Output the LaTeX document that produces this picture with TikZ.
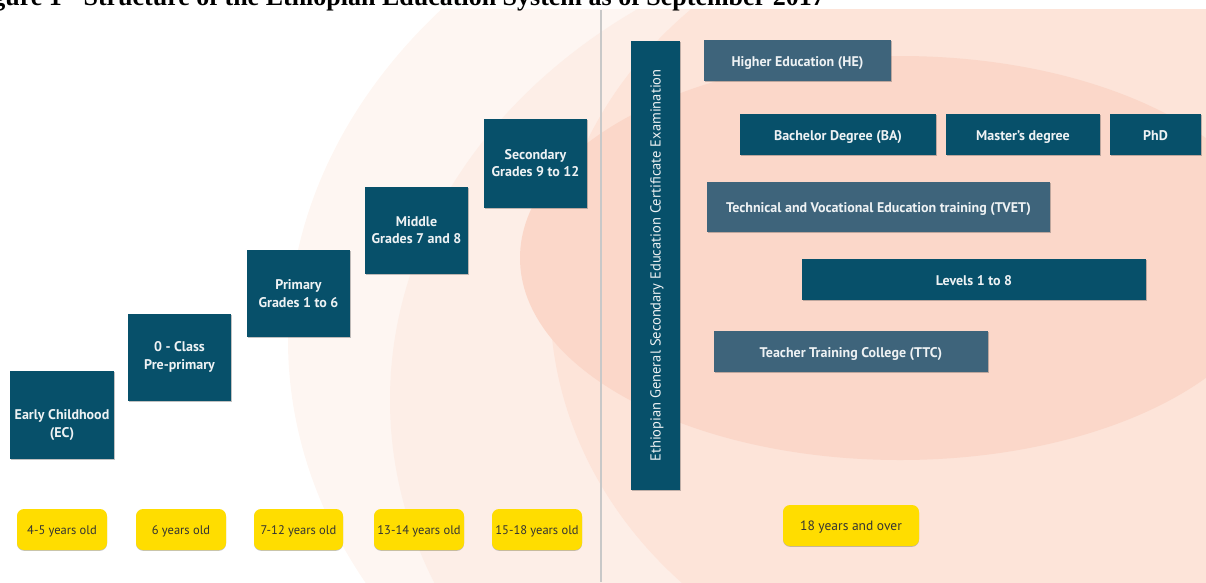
\documentclass[tikz,border=0pt]{standalone}
\usepackage{fontspec}
\setmainfont{PT Sans}
\newfontfamily\titlefont{Liberation Serif}
\usetikzlibrary{shadows}
\definecolor{darkteal}{HTML}{07506A}
\definecolor{lightteal}{HTML}{3E647B}
\definecolor{boxyellow}{HTML}{FFDD00}
\definecolor{txtwhite}{HTML}{EEF2F4}
\definecolor{txtdark}{HTML}{333333}
\definecolor{bgA}{HTML}{FEF6F2}
\definecolor{bgB}{HTML}{FDEEE7}
\definecolor{bgC}{HTML}{FDE4D9}
\definecolor{bgD}{HTML}{FBD7C9}
\definecolor{sepgray}{HTML}{C8C8C8}
\begin{document}
\begin{tikzpicture}[x=1pt,y=-1pt,
  boxshadow/.style={drop shadow={shadow xshift=1.2pt,shadow yshift=-1.2pt,opacity=0.35,fill=black!70}},
  darkbox/.style={fill=darkteal,boxshadow,inner sep=0pt,text=txtwhite,align=center,
    font=\fontsize{14}{17.5}\selectfont\bfseries},
  lightbox/.style={darkbox,fill=lightteal},
  oneline/.style={text height=11pt,text depth=0pt},
  agebox/.style={fill=boxyellow,rounded corners=7pt,inner sep=0pt,text=txtdark,
    font=\fontsize{12.5}{14}\selectfont,text height=9.8pt,text depth=0pt,
    drop shadow={shadow xshift=0pt,shadow yshift=-0.8pt,opacity=0.4,fill=black!60},
    minimum height=41pt},
  plaintext/.style={inner sep=0pt,text=txtwhite,align=center,font=\fontsize{14}{17.5}\selectfont\bfseries}
]
\useasboundingbox (0,0) rectangle (1206,582);
% background
\begin{scope}
\clip (0,9) rectangle (1206,582);
\fill[bgA] (960,340) ellipse [x radius=672, y radius=520];
\fill[bgB] (980,400) ellipse [x radius=590, y radius=480];
\fill[bgC] (1000,300) ellipse [x radius=450, y radius=400];
\fill[bgD] (900,258) ellipse [x radius=380, y radius=202];
\end{scope}
\node[anchor=base east,inner sep=0pt,font=\titlefont\fontsize{26}{28}\selectfont\bfseries] (title) at (825,5) {Figure 1 - Structure of the Ethiopian Education System as of September 2017};
\draw[sepgray,line width=1.5pt] (601,10) coordinate (sepTop) -- (601,582) coordinate (sepBot);

% left column boxes
\node[darkbox,minimum width=104pt,minimum height=88pt] (ec) at (62,415) {};
\node[plaintext] (ectext) at (62,425) {Early Childhood\\(EC)};
\node[darkbox,minimum width=103pt,minimum height=87pt] (class0) at (179.5,357) {0 - Class\\Pre-primary};
\node[darkbox,minimum width=103pt,minimum height=87pt] (primary) at (298.5,293.5) {Primary\\Grades 1 to 6};
\node[darkbox,minimum width=103pt,minimum height=87pt] (middle) at (416.5,230) {Middle\\Grades 7 and 8};
\node[darkbox,minimum width=103pt,minimum height=89pt] (secondary) at (535.5,163) {Secondary\\Grades 9 to 12};

% exam bar
\node[darkbox,minimum width=49pt,minimum height=449pt] (exam) at (655.5,265.5) {};
\node[rotate=90,inner sep=0pt,text=txtwhite,font=\fontsize{14.5}{16}\selectfont] (examtext) at (657,265.5) {Ethiopian General Secondary Education Certificate Examination};

% right boxes
\node[lightbox,oneline,minimum width=187pt,minimum height=41pt] (he) at (797.5,60.5) {Higher Education (HE)};
\node[darkbox,oneline,minimum width=196pt,minimum height=41pt] (ba) at (838,134.5) {Bachelor Degree (BA)};
\node[darkbox,oneline,minimum width=154pt,minimum height=41pt] (ma) at (1023,134.5) {Master's degree};
\node[darkbox,oneline,minimum width=91pt,minimum height=41pt] (phd) at (1155.5,134.5) {PhD};
\node[lightbox,oneline,minimum width=343pt,minimum height=50pt] (tvet) at (878.5,207) {Technical and Vocational Education training (TVET)};
\node[darkbox,oneline,minimum width=344pt,minimum height=41pt] (levels) at (974,279.5) {Levels 1 to 8};
\node[lightbox,oneline,minimum width=274pt,minimum height=41pt] (ttc) at (851,351.5) {Teacher Training College (TTC)};

% age boxes
\node[agebox,minimum width=90pt] (age1) at (62,529.5) {4-5 years old};
\node[agebox,minimum width=90pt] (age2) at (181,529.5) {6 years old};
\node[agebox,minimum width=89pt] (age3) at (298.5,529.5) {7-12 years old};
\node[agebox,minimum width=90pt] (age4) at (419,529.5) {13-14 years old};
\node[agebox,minimum width=90pt] (age5) at (537,529.5) {15-18 years old};
\node[agebox,minimum width=136pt,font=\fontsize{13.5}{15}\selectfont,text height=10.5pt] (age6) at (851,525.5) {18 years and over};
\end{tikzpicture}
\end{document}
